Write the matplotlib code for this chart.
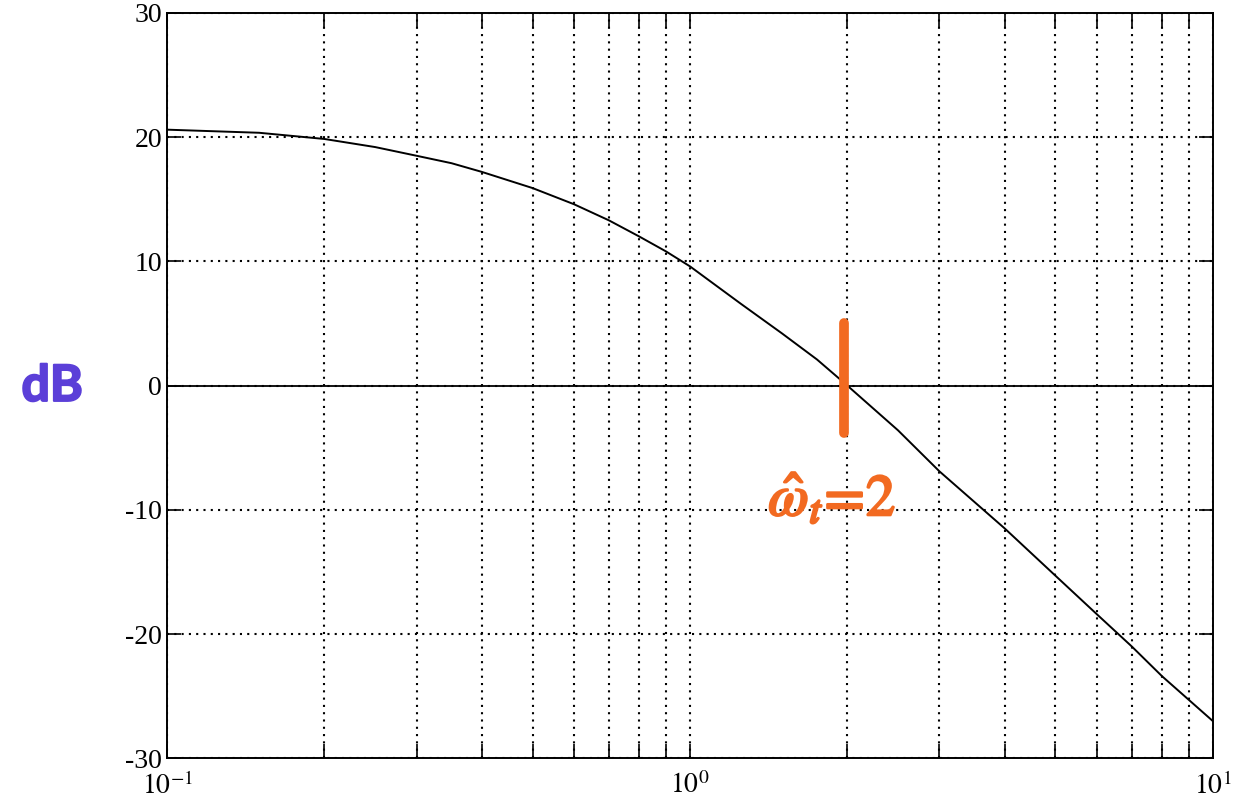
import matplotlib
matplotlib.use("Agg")
import matplotlib.pyplot as plt
import matplotlib.patheffects as pe
from matplotlib.ticker import LogLocator, NullFormatter

# Bode magnitude values
freq = [0.1, 0.15, 0.2, 0.25, 0.3, 0.35, 0.4, 0.5, 0.6, 0.7, 0.8, 0.9, 1.0,
        1.25, 1.5, 1.75, 2.0, 2.5, 3, 4, 5, 6, 7, 8, 9, 10]
mag_db = [20.6, 20.35, 19.85, 19.2, 18.5, 17.9, 17.2, 15.9, 14.6, 13.3, 12.0, 10.8, 9.6,
          6.6, 4.2, 2.1, 0.0, -3.6, -6.9, -11.5, -15.3, -18.4, -21.0, -23.4, -25.3, -27.0]

y_ticks = [-30, -20, -10, 0, 10, 20, 30]
x_ticks = [0.1, 1, 10]
x_labels = [r"$10^{-1}$", r"$10^{0}$", r"$10^{1}$"]

# hand-drawn marks on the print
cross_freq = 2
cross_label = r"$\hat{\omega}_t\!=\!2$"
orange = "#f26a21"
purple = "#5b3fd8"

plt.rcParams["font.family"] = ["Liberation Serif", "DejaVu Serif"]
plt.rcParams["mathtext.fontset"] = "stix"

fig = plt.figure(figsize=(12.42, 8.05), dpi=100)
ax = fig.add_axes([0.1345, 0.058, 0.842, 0.926])

ax.set_xscale("log")
ax.set_xlim(0.1, 10)
ax.set_ylim(-30, 30)

ax.grid(True, which="both", color="black", linestyle=(0, (1, 2.5)), linewidth=1.5)
ax.axhline(0, color="black", linewidth=1.3)
ax.plot(freq, mag_db, color="black", linewidth=1.4)

ax.set_yticks(y_ticks)
ax.set_yticklabels([str(v) for v in y_ticks])
ax.set_xticks(x_ticks)
ax.set_xticklabels(x_labels)
ax.xaxis.set_minor_locator(LogLocator(base=10, subs=range(2, 10)))
ax.xaxis.set_minor_formatter(NullFormatter())
ax.tick_params(which="both", direction="in", top=True, right=True,
               length=10, width=1.2, labelsize=20, colors="black")
ax.tick_params(axis="x", pad=10)
for side in ax.spines.values():
    side.set_linewidth(1.4)

# orange marker and label
ax.plot([cross_freq * 0.985, cross_freq * 0.985], [5.0, -3.8], color=orange,
        linewidth=7, solid_capstyle="round")
ax.text(1.87, -9.2, cross_label, color=orange, fontsize=42, ha="center",
        va="center",
        path_effects=[pe.withStroke(linewidth=1.8, foreground=orange)])

fig.text(0.042, 0.52, "dB", color=purple, fontsize=36, fontweight="bold",
         family=["Lato", "DejaVu Sans"], ha="center", va="center",
         path_effects=[pe.withStroke(linewidth=1.5, foreground=purple)])

fig.savefig("out.png", dpi=100)
plt.close(fig)
